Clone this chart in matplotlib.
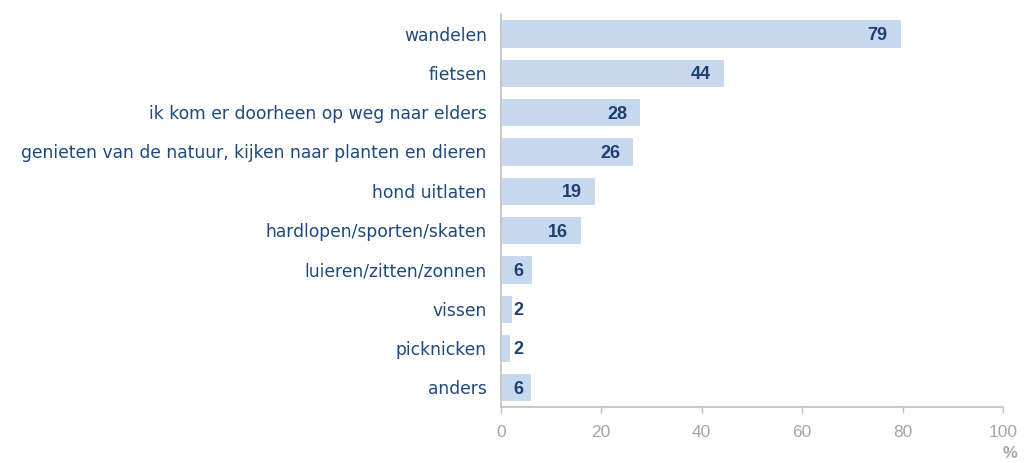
import matplotlib
matplotlib.use('Agg')
import matplotlib.pyplot as plt
import numpy as np

plt.rcParams['font.family'] = ['Liberation Sans', 'DejaVu Sans']

# activiteiten (top -> bottom)
activities = ['wandelen', 'fietsen', 'ik kom er doorheen op weg naar elders',
              'genieten van de natuur, kijken naar planten en dieren',
              'hond uitlaten', 'hardlopen/sporten/skaten', 'luieren/zitten/zonnen',
              'vissen', 'picknicken', 'anders']
values = [79.6, 44.5, 27.8, 26.4, 18.7, 15.9, 6.3, 2.2, 1.8, 6.0]
labels = ['79', '44', '28', '26', '19', '16', '6', '2', '2', '6']
xticks = [0, 20, 40, 60, 80, 100]

bar_col = '#C6D8EE'
txt_col = '#1F497D'
val_col = '#1F3F73'
grey = '#A6A6A6'

fig = plt.figure(figsize=(10.24, 4.63), dpi=100)
ax = fig.add_axes([0.489, 0.121, 0.4906, 0.849])

y = np.arange(len(activities))
ax.barh(y, values, height=0.72, color=bar_col, edgecolor='white', linewidth=0.8)

for yi, v, lab in zip(y, values, labels):
    xpos = max(v - 2.6, 4.6)
    ax.text(xpos, yi + 0.05, lab, ha='right', va='center', fontsize=13,
            fontweight='bold', color=val_col, family='Liberation Sans')

ax.set_xlim(0, 100)
ax.set_ylim(len(activities) - 0.5, -0.5)
ax.set_yticks(y)
ax.set_yticklabels(activities, fontsize=12.3, color=txt_col, family='DejaVu Sans')
ax.tick_params(axis='y', length=0, pad=10)
ax.set_xticks(xticks)
ax.set_xticklabels([str(t) for t in xticks], fontsize=12.5, color=grey,
                   family='Liberation Sans')
ax.tick_params(axis='x', length=4, width=1, color='#BFBFBF', pad=9)

for s in ['top', 'right']:
    ax.spines[s].set_visible(False)
for s in ['left', 'bottom']:
    ax.spines[s].set_color('#BFBFBF')
    ax.spines[s].set_linewidth(1.2)

fig.text(0.9865, 0.005, '%', ha='center', va='bottom', fontsize=12,
         fontweight='bold', color=grey, family='Liberation Sans')

fig.savefig('out.png', dpi=100)
